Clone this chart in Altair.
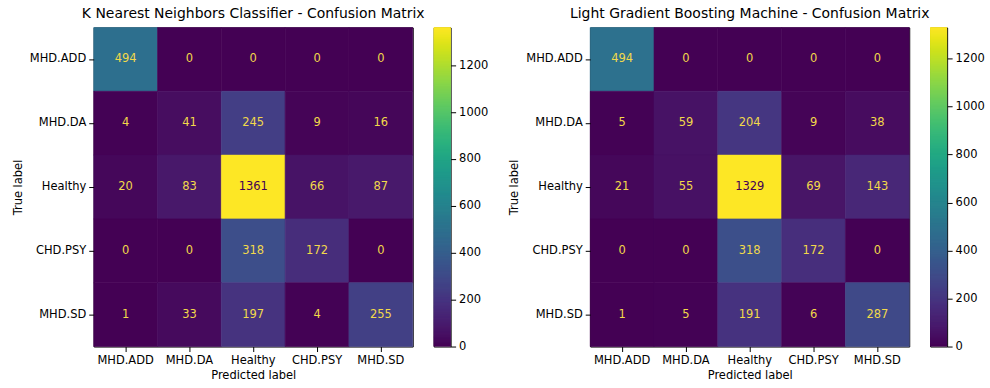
import altair as alt
import pandas as pd

classes = ["MHD.ADD", "MHD.DA", "Healthy", "CHD.PSY", "MHD.SD"]

knn_title = "K Nearest Neighbors Classifier - Confusion Matrix"
knn_matrix = [
    [494, 0, 0, 0, 0],
    [4, 41, 245, 9, 16],
    [20, 83, 1361, 66, 87],
    [0, 0, 318, 172, 0],
    [1, 33, 197, 4, 255],
]

lgbm_title = "Light Gradient Boosting Machine - Confusion Matrix"
lgbm_matrix = [
    [494, 0, 0, 0, 0],
    [5, 59, 204, 9, 38],
    [21, 55, 1329, 69, 143],
    [0, 0, 318, 172, 0],
    [1, 5, 191, 6, 287],
]

colorbar_ticks = [0, 200, 400, 600, 800, 1000, 1200]

FONT = "DejaVu Sans"
FS = 11.5
SIZE = 320


def matrix_chart(mat, title):
    rows = []
    for i, t in enumerate(classes):
        for j, p in enumerate(classes):
            rows.append({"true": t, "pred": p, "value": mat[i][j]})
    df = pd.DataFrame(rows)
    mx = max(max(r) for r in mat)
    base = alt.Chart(df)
    x = alt.X("pred:N", sort=classes, title="Predicted label",
              scale=alt.Scale(paddingInner=0, paddingOuter=0),
              axis=alt.Axis(labelAngle=0, titlePadding=4))
    y = alt.Y("true:N", sort=classes, title="True label",
              scale=alt.Scale(paddingInner=0, paddingOuter=0),
              axis=alt.Axis(titlePadding=6))
    cscale = alt.Scale(scheme="viridis", domain=[0, mx], nice=False, zero=False)
    rect = base.mark_rect(strokeWidth=0.6).encode(
        x=x, y=y,
        color=alt.Color("value:Q", legend=None, scale=cscale),
        stroke=alt.Stroke("value:Q", legend=None, scale=cscale),
    )
    text = base.mark_text(font=FONT, fontSize=FS).encode(
        x=x, y=y,
        text="value:Q",
        color=alt.condition(alt.datum.value > mx / 2, alt.value("#440154"), alt.value("#f2d94a")),
    )
    return (rect + text).properties(
        width=SIZE, height=SIZE,
        title=alt.TitleParams(title, font=FONT, fontSize=14, fontWeight="normal",
                              color="black", offset=6, anchor="middle"),
    )


def colorbar_chart(mat):
    mx = max(max(r) for r in mat)
    step = 4
    cscale = alt.Scale(scheme="viridis", domain=[0, mx], nice=False, zero=False)
    cb = alt.Chart(alt.sequence(0, mx, step, as_="v")).transform_calculate(
        v2=f"min(datum.v + {step + 1}, {mx})"
    ).mark_rect(clip=True, strokeWidth=1).encode(
        x=alt.value(0), x2=alt.value(17),
        y=alt.Y("v:Q", title=None,
                scale=alt.Scale(domain=[0, mx], nice=False, zero=False),
                axis=alt.Axis(orient="right", values=colorbar_ticks, grid=False, format="d")),
        y2="v2:Q",
        color=alt.Color("v:Q", legend=None, scale=cscale),
        stroke=alt.Stroke("v:Q", legend=None, scale=cscale),
    ).properties(width=17, height=SIZE)
    return cb


spacer = alt.Chart(pd.DataFrame({"a": [0]})).mark_point(opacity=0).encode(
    x=alt.value(0), y=alt.value(0)
).properties(width=98, height=SIZE, view=alt.ViewBackground(stroke="transparent"))

chart = alt.hconcat(
    matrix_chart(knn_matrix, knn_title), colorbar_chart(knn_matrix),
    spacer,
    matrix_chart(lgbm_matrix, lgbm_title), colorbar_chart(lgbm_matrix),
    spacing=21, bounds="flush",
).resolve_scale(
    color="independent", stroke="independent", y="independent", x="independent"
).properties(
    padding={"left": 11, "top": 6, "right": 5, "bottom": 3},
    background="white",
).configure_view(
    stroke="black", strokeWidth=1
).configure_axis(
    labelFont=FONT, labelFontSize=FS, labelColor="black",
    titleFont=FONT, titleFontSize=FS, titleFontWeight="normal", titleColor="black",
    tickColor="black", tickSize=5, tickWidth=1, labelPadding=3,
    domain=False, grid=False,
)

chart.save("out.html", embed_options={"renderer": "svg", "actions": False})
